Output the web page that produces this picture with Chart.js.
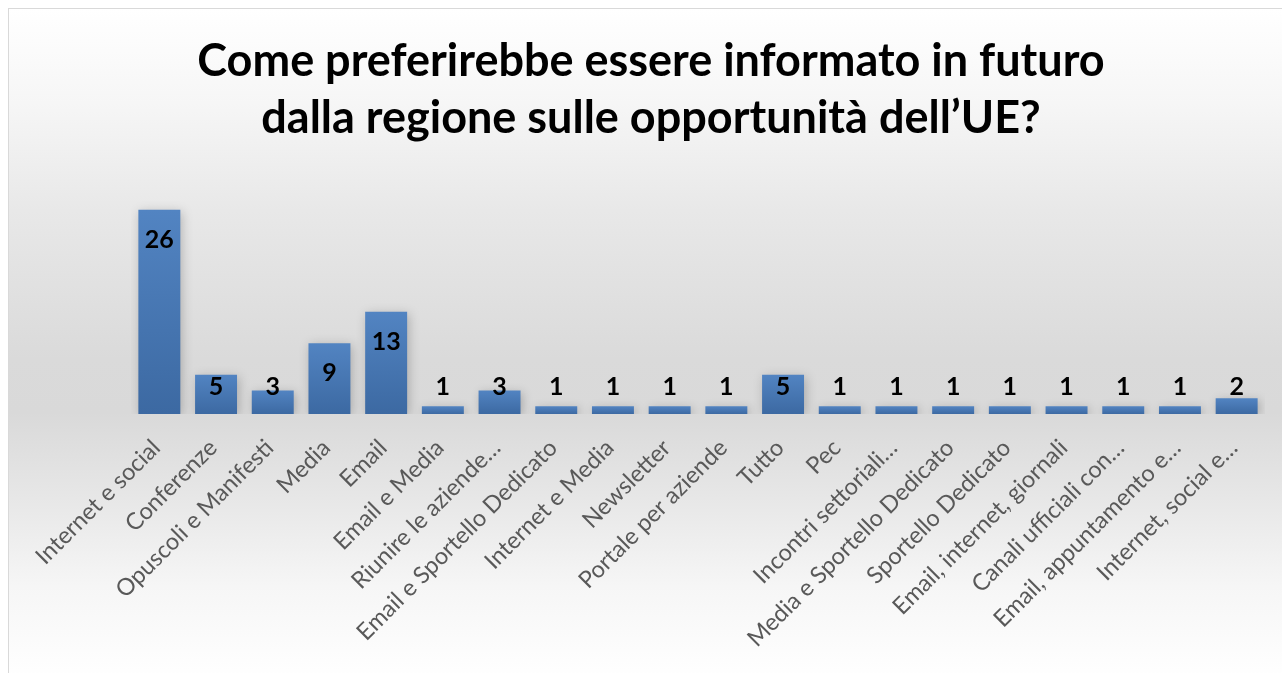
<!DOCTYPE html>
<html lang="it">
<head>
<meta charset="utf-8">
<title>Come preferirebbe essere informato in futuro</title>
<script src="https://cdn.jsdelivr.net/npm/chart.js@4.4.1/dist/chart.umd.min.js"></script>
<style>
  html,body{margin:0;padding:0;background:#fff;}
  #wrap{
    position:relative;width:1282px;height:673px;box-sizing:border-box;
    border-left:1px solid #d9d9d9;border-top:1px solid #d9d9d9;
    margin-left:8px;margin-top:8px;
    background:linear-gradient(to bottom,#ffffff 0%,#f6f6f6 14%,#e8e8e8 30%,#dadada 52%,#d9d9d9 60%,#e6e6e6 72%,#f6f6f6 86%,#ffffff 100%);
  }
  canvas{position:absolute;left:-9px;top:-9px;}
</style>
</head>
<body>
<div id="wrap"><canvas id="grafico" width="1282" height="673"></canvas></div>
<script>
// risposte alla domanda sulle modalità di informazione
const categorie=[
  'Internet e social','Conferenze','Opuscoli e Manifesti','Media','Email',
  'Email e Media','Riunire le aziende…','Email e Sportello Dedicato','Internet e Media','Newsletter',
  'Portale per aziende','Tutto','Pec','Incontri settoriali…','Media e Sportello Dedicato',
  'Sportello Dedicato','Email, internet, giornali','Canali ufficiali con…','Email, appuntamento e…','Internet, social e…'
];
const risposte=[26,5,3,9,13,1,3,1,1,1,1,5,1,1,1,1,1,1,1,2];
const titolo=['Come preferirebbe essere informato in futuro','dalla regione sulle opportunità dell’UE?'];

const FONT='Lato, "Open Sans", sans-serif';

// ombra morbida dietro le colonne
const ombra={
  id:'ombra',
  beforeDatasetsDraw(chart){
    const c=chart.ctx;
    c.save();
    c.shadowColor='rgba(0,0,0,0.22)';
    c.shadowBlur=10;
    c.shadowOffsetX=2;
    c.shadowOffsetY=2;
  },
  afterDatasetsDraw(chart){ chart.ctx.restore(); }
};

// etichette dei valori dentro/sopra le colonne
const valori={
  id:'valori',
  afterDatasetsDraw(chart){
    const c=chart.ctx;
    const meta=chart.getDatasetMeta(0);
    c.save();
    c.font='bold 25px '+FONT;
    c.fillStyle='#000';
    c.textAlign='center';
    c.textBaseline='middle';
    meta.data.forEach((bar,i)=>{
      const y=Math.min(bar.y+30,bar.base-27);
      c.fillText(String(risposte[i]),bar.x,y);
    });
    c.restore();
  }
};

function coloreColonna(ctx){
  const chart=ctx.chart;
  const y=chart.scales.y;
  if(!chart.chartArea||!y) return '#4a7ab5';
  const top=y.getPixelForValue(risposte[ctx.dataIndex]);
  const base=y.getPixelForValue(0);
  if(!isFinite(top)||!isFinite(base)||base-top<1) return '#4a7ab5';
  const g=chart.ctx.createLinearGradient(0,top,0,base);
  g.addColorStop(0,'#5284c2');
  g.addColorStop(1,'#3c69a2');
  return g;
}

new Chart(document.getElementById('grafico'),{
  type:'bar',
  data:{labels:categorie,datasets:[{data:risposte,backgroundColor:coloreColonna,borderWidth:0,barPercentage:0.74,categoryPercentage:1}]},
  options:{
    responsive:false,
    animation:false,
    layout:{padding:{left:37,right:17,top:0,bottom:0}},
    plugins:{
      legend:{display:false},
      tooltip:{enabled:false},
      title:{
        display:true,
        text:titolo,
        color:'#000',
        font:{family:FONT,size:45,weight:'bold',lineHeight:1.27},
        padding:{top:33,bottom:31}
      }
    },
    scales:{
      // asse y invisibile: tiene solo lo spazio a sinistra
      y:{
        min:0,max:30,
        grid:{display:false},border:{display:false},
        ticks:{display:false},
        afterFit(scale){ scale.width=94; }
      },
      x:{
        grid:{display:false},
        border:{display:false},
        afterFit(scale){ scale.height=259; },
        ticks:{
          autoSkip:false,maxRotation:45,minRotation:45,
          color:'#595959',
          font:{family:FONT,size:23.5},
          padding:12,
          labelOffset:-3
        }
      }
    }
  },
  plugins:[ombra,valori]
});
</script>
</body>
</html>
